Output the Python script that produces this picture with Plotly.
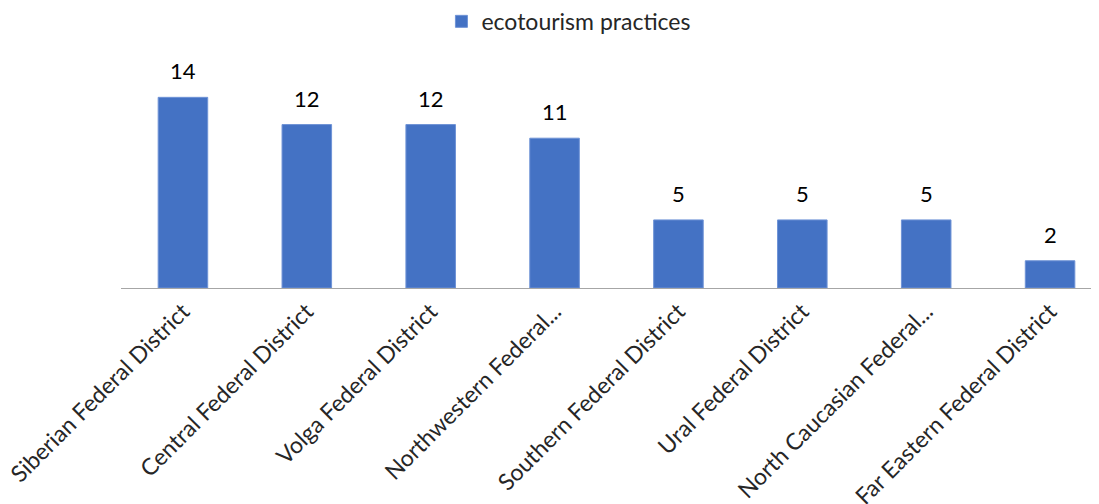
import plotly.graph_objects as go

categories = ["Siberian Federal District", "Central Federal District", "Volga Federal District",
              "Northwestern Federal...", "Southern Federal District", "Ural Federal District",
              "North Caucasian Federal...", "Far Eastern Federal District"]
values = [14, 12, 12, 11, 5, 5, 5, 2]
series_name = "ecotourism practices"

FONT = "Lato"

fig = go.Figure()
fig.add_trace(go.Bar(
    x=categories, y=values, name=series_name,
    marker=dict(color="#4472C4", line=dict(color="#6f93d6", width=1)),
    width=0.4,
    showlegend=True,
))

for c, v in zip(categories, values):
    fig.add_annotation(x=c, y=v, text=str(v), showarrow=False, yanchor="bottom", yshift=11,
                       font=dict(size=22, color="#000000", family=FONT))

fig.update_layout(
    width=1091, height=496,
    margin=dict(l=113, r=0, t=32, b=216, autoexpand=False),
    plot_bgcolor="white", paper_bgcolor="white",
    font=dict(family=FONT, size=22, color="#000000"),
    showlegend=True,
    legend=dict(orientation="h", x=0.458, xref="paper", xanchor="center", y=1.075, yanchor="middle",
                font=dict(size=23, color="#262626"), itemwidth=30),
    xaxis=dict(range=[-0.5, 7.395], tickangle=-45, showgrid=False, showline=True, automargin=False,
               linecolor="#A6A6A6", linewidth=1, ticks="", tickfont=dict(size=23, color="#262626")),
    yaxis=dict(range=[0, 18.21], showgrid=False, showticklabels=False, zeroline=False,
               showline=False, ticks="", automargin=False),
)

fig.write_html("out.html")
